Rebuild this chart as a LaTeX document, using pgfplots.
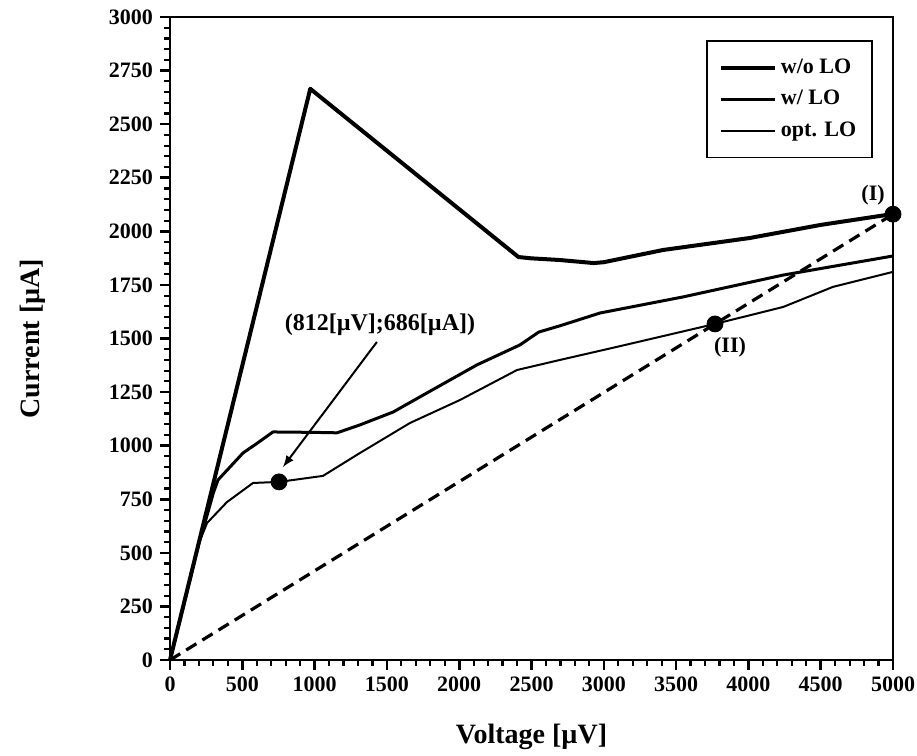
\documentclass[border=0pt]{standalone}
\usepackage{fontspec}
\setmainfont{Liberation Serif}
\usepackage{pgfplots}
\pgfplotsset{compat=1.18}

\begin{document}
\begin{tikzpicture}
\begin{axis}[
    name=ax,
    scale only axis,
    width=361.5pt, height=321.5pt,
    xmin=0, xmax=5000, ymin=0, ymax=3000,
    xtick={0,500,...,5000}, ytick={0,250,...,3000},
    minor x tick num=4, minor y tick num=4,
    tick align=outside,
    xtick pos=lower, ytick pos=lower,
    major tick length=5pt, minor tick length=3pt,
    axis line style={line width=0.9pt},
    /pgf/number format/assume math mode=true,
    /pgf/number format/1000 sep={},
    tick label style={font=\fontsize{11}{13}\selectfont\bfseries},
    xlabel={Voltage [µV]}, ylabel={Current [µA]},
    label style={font=\fontsize{14}{16}\selectfont\bfseries},
    xlabel shift=9pt, ylabel shift=25pt,
    legend style={at={(axis cs:4862,2893)}, anchor=north east,
        draw=black, line width=0.9pt, inner xsep=6pt, inner ysep=7pt,
        row sep=3pt,
        font=\fontsize{11}{13}\selectfont\bfseries},
    legend cell align=left,
    legend image code/.code={\draw[#1] (0cm,0cm) -- (0.95cm,0cm);},
    clip=false,
]
% w/o LO
\addplot[black, line width=2pt, line join=round] coordinates {
    (0,0) (970,2665) (2410,1880) (2500,1874) (2700,1866) (2930,1852)
    (3000,1856) (3410,1913) (4010,1969) (4500,2030) (5000,2081)
};
\addlegendentry{w/o LO}
% w/ LO
\addplot[black, line width=1.5pt, line join=round] coordinates {
    (0,0) (100,270) (200,545) (250,660) (300,780) (332,840) (505,966)
    (600,1010) (712,1064) (1000,1062) (1155,1060) (1314,1097) (1543,1157)
    (1777,1246) (2123,1377) (2420,1470) (2550,1530) (2700,1560) (2974,1619)
    (3548,1694) (4240,1796) (5000,1885)
};
\addlegendentry{w/ LO}
% opt. LO
\addplot[black, line width=1pt, line join=round] coordinates {
    (0,0) (100,270) (200,545) (256,639) (394,737) (574,826) (754,831)
    (1058,859) (1314,966) (1660,1106) (2005,1213) (2400,1353) (2697,1400)
    (3091,1461) (3769,1568) (4240,1647) (4585,1741) (5000,1811)
};
\addlegendentry{opt. LO}
% load line
\addplot[black, line width=1.6pt, dash pattern=on 6pt off 3.5pt, forget plot]
    coordinates {(0,0) (5000,2080)};
% marked points
\addplot[only marks, mark=*, mark size=4pt, black, forget plot]
    coordinates {(754,831) (3769,1568) (5000,2080)};
% heavier tick marks on top of the default ones
\pgfplotsinvokeforeach{0,500,...,5000}{\draw[line width=1.3pt] (axis cs:#1,0) -- ++(0,-5pt);}
\pgfplotsinvokeforeach{100,200,...,4900}{\draw[line width=1.1pt] (axis cs:#1,0) -- ++(0,-3pt);}
\pgfplotsinvokeforeach{0,250,...,3000}{\draw[line width=1.3pt] (axis cs:0,#1) -- ++(-5pt,0);}
\pgfplotsinvokeforeach{50,100,...,2950}{\draw[line width=1.1pt] (axis cs:0,#1) -- ++(-3pt,0);}
% annotations
\draw[-latex, line width=1pt] (axis cs:1431,1484) -- (axis cs:781,900);
\node[font=\fontsize{12}{14}\selectfont\bfseries] at (axis cs:1452,1563)
    {(812[µV];686[µA])};
\node[font=\fontsize{11}{13}\selectfont\bfseries] at (axis cs:4862,2170) {(I)};
\node[font=\fontsize{11}{13}\selectfont\bfseries] at (axis cs:3873,1461) {(II)};
\coordinate (bl) at (rel axis cs:0,0);
\coordinate (tr) at (rel axis cs:1,1);
\end{axis}
\pgfresetboundingbox
\path[use as bounding box] ([shift={(-85pt,-47.5pt)}]bl) rectangle ([shift={(12pt,8.5pt)}]tr);
\end{tikzpicture}
\end{document}
